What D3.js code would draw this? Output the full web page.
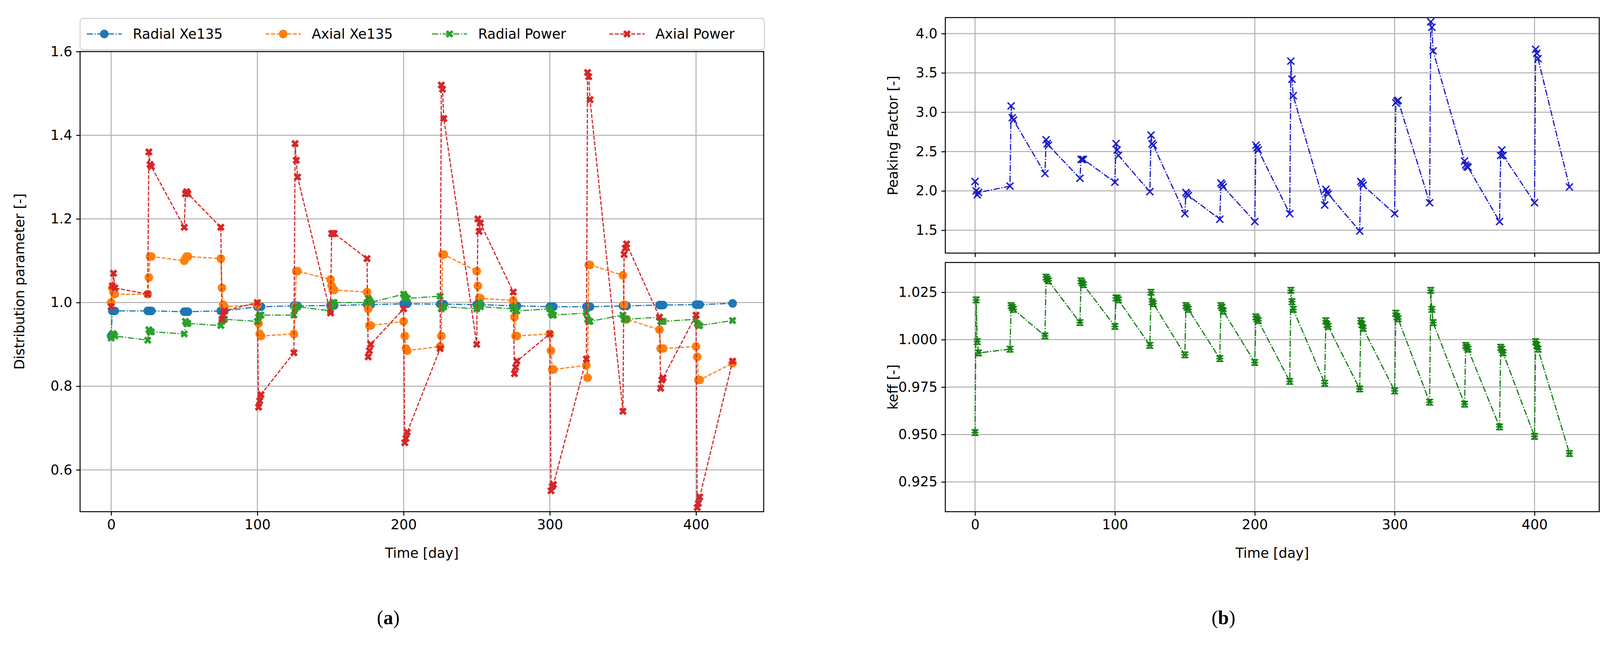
<!DOCTYPE html>
<html>
<head>
<meta charset="utf-8">
<script src="https://cdn.jsdelivr.net/npm/d3@7"></script>
<style>
  body { margin: 0; background: #fff; }
  text { font-family: "DejaVu Sans", sans-serif; }
</style>
</head>
<body>
<svg id="board"></svg>
<script>
const W = 4157, H = 1659;

// time stamps [day], 4 sub-steps per 25-day cycle plus the final point
const time = [
  0, 0.8, 1.6, 2.5,   25, 25.8, 26.6, 27.5,   50, 50.8, 51.6, 52.5,
  75, 75.8, 76.6, 77.5,   100, 100.8, 101.6, 102.5,   125, 125.8, 126.6, 127.5,
  150, 150.8, 151.6, 152.5,   175, 175.8, 176.6, 177.5,   200, 200.8, 201.6, 202.5,
  225, 225.8, 226.6, 227.5,   250, 250.8, 251.6, 252.5,   275, 275.8, 276.6, 277.5,
  300, 300.8, 301.6, 302.5,   325, 325.8, 326.6, 327.5,   350, 350.8, 351.6, 352.5,
  375, 375.8, 376.6, 377.5,   400, 400.8, 401.6, 402.5,   425
];

const radialXe = [
  0.92, 0.98, 0.98, 0.98,   0.98, 0.98, 0.98, 0.98,   0.978, 0.978, 0.978, 0.978,
  0.98, 0.98, 0.98, 0.98,   0.99, 0.99, 0.99, 0.99,   0.992, 0.992, 0.992, 0.992,
  0.993, 0.993, 0.993, 0.993,   0.995, 0.995, 0.995, 0.995,   0.997, 0.997, 0.997, 0.997,
  0.996, 0.996, 0.996, 0.996,   0.995, 0.995, 0.995, 0.995,   0.992, 0.992, 0.992, 0.992,
  0.99, 0.99, 0.99, 0.99,   0.99, 0.99, 0.99, 0.99,   0.992, 0.992, 0.992, 0.992,
  0.994, 0.994, 0.994, 0.994,   0.995, 0.995, 0.995, 0.995,   0.998
];
const axialXe = [
  1.00, 1.035, 1.025, 1.02,   1.02, 1.06, 1.11, 1.11,   1.10, 1.105, 1.11, 1.11,
  1.105, 1.035, 0.995, 0.99,   0.995, 0.95, 0.925, 0.92,   0.925, 0.99, 1.075, 1.075,
  1.055, 1.04, 1.03, 1.03,   1.025, 0.985, 0.945, 0.945,   0.955, 0.92, 0.89, 0.885,
  0.895, 0.92, 1.115, 1.115,   1.075, 1.04, 1.01, 1.01,   1.005, 0.965, 0.92, 0.92,
  0.925, 0.885, 0.84, 0.84,   0.85, 0.82, 1.09, 1.09,   1.065, 0.995, 0.96, 0.96,
  0.935, 0.89, 0.89, 0.89,   0.895, 0.87, 0.815, 0.815,   0.855
];
const radialPower = [
  0.915, 0.925, 0.925, 0.92,   0.91, 0.935, 0.93, 0.93,   0.925, 0.955, 0.95, 0.95,
  0.945, 0.955, 0.96, 0.96,   0.955, 0.965, 0.97, 0.97,   0.97, 0.985, 0.99, 0.99,
  0.98, 0.995, 1.0, 1.0,   1.0, 1.01, 1.005, 1.0,   1.02, 1.015, 1.01, 1.01,
  1.015, 0.985, 0.99, 0.99,   0.985, 0.99, 1.0, 0.99,   0.985, 0.99, 0.98, 0.98,
  0.985, 0.975, 0.97, 0.97,   0.975, 0.96, 0.955, 0.955,   0.97, 0.96, 0.96, 0.96,
  0.965, 0.955, 0.955, 0.955,   0.96, 0.95, 0.945, 0.945,   0.957
];
const axialPower = [
  0.99, 1.04, 1.07, 1.035,   1.02, 1.36, 1.33, 1.325,   1.18, 1.26, 1.265, 1.26,
  1.18, 0.96, 0.97, 0.98,   1.00, 0.75, 0.765, 0.78,   0.88, 1.38, 1.34, 1.30,
  0.975, 1.165, 1.165, 1.165,   1.105, 0.87, 0.885, 0.90,   0.985, 0.665, 0.675, 0.69,
  0.89, 1.52, 1.51, 1.44,   0.90, 1.20, 1.17, 1.19,   1.025, 0.83, 0.845, 0.86,
  0.925, 0.55, 0.56, 0.565,   0.865, 1.55, 1.54, 1.485,   0.74, 1.115, 1.13, 1.14,
  0.965, 0.795, 0.815, 0.82,   0.97, 0.51, 0.52, 0.535,   0.86
];
const peaking = [
  2.12, 2.0, 1.95, 1.98,   2.06, 3.08, 2.93, 2.90,   2.22, 2.65, 2.60, 2.58,
  2.16, 2.40, 2.40, 2.40,   2.11, 2.60, 2.52, 2.45,   1.99, 2.71, 2.60, 2.58,
  1.71, 1.98, 1.96, 1.94,   1.64, 2.10, 2.08, 2.05,   1.61, 2.58, 2.55, 2.52,
  1.71, 3.65, 3.42, 3.21,   1.82, 2.02, 1.98, 1.96,   1.49, 2.12, 2.10, 2.07,
  1.71, 3.12, 3.14, 3.15,   1.85, 4.15, 4.08, 3.78,   2.38, 2.33, 2.31, 2.30,
  1.61, 2.45, 2.52, 2.45,   1.85, 3.80, 3.75, 3.68,   2.05
];
const keff = [
  0.951, 1.021, 0.999, 0.993,   0.995, 1.018, 1.017, 1.016,   1.002, 1.033, 1.032, 1.031,
  1.009, 1.031, 1.030, 1.029,   1.007, 1.022, 1.022, 1.021,   0.997, 1.025, 1.020, 1.019,
  0.992, 1.018, 1.017, 1.016,   0.990, 1.018, 1.017, 1.015,   0.988, 1.012, 1.011, 1.010,
  0.978, 1.026, 1.020, 1.016,   0.977, 1.010, 1.008, 1.007,   0.974, 1.010, 1.008, 1.006,
  0.973, 1.014, 1.012, 1.011,   0.967, 1.026, 1.016, 1.009,   0.966, 0.997, 0.996, 0.995,
  0.954, 0.996, 0.995, 0.993,   0.949, 0.999, 0.997, 0.995,   0.940
];

const xTicks = [0, 100, 200, 300, 400];
const distTicks = [0.6, 0.8, 1.0, 1.2, 1.4, 1.6];
const peakTicks = [1.5, 2.0, 2.5, 3.0, 3.5, 4.0];
const keffTicks = [0.925, 0.950, 0.975, 1.000, 1.025];

const seriesA = [
  { name: "Radial Xe135", values: radialXe, color: "#1f77b4", dash: "16,4,3,4", marker: "circle" },
  { name: "Axial Xe135", values: axialXe, color: "#ff7f0e", dash: "10,4", marker: "circle" },
  { name: "Radial Power", values: radialPower, color: "#2ca02c", dash: "16,4,3,4", marker: "xfill" },
  { name: "Axial Power", values: axialPower, color: "#d62728", dash: "10,4", marker: "xfill" }
];

const svg = d3.select("#board").attr("width", W).attr("height", H);
const FS = 35;

function marker(g, type, color, x, y) {
  if (type === "circle") {
    g.append("circle").attr("cx", x).attr("cy", y).attr("r", 11).attr("fill", color);
  } else if (type === "xfill") {
    g.append("path").attr("transform", `translate(${x},${y}) rotate(45)`)
      .attr("d", d3.symbol(d3.symbolCross, 240)()).attr("fill", color);
  } else if (type === "x") {
    g.append("path").attr("d", `M${x-9},${y-9}L${x+9},${y+9}M${x-9},${y+9}L${x+9},${y-9}`)
      .attr("stroke", color).attr("stroke-width", 3.5);
  } else {
    g.append("path").attr("d", `M${x-9},${y-7}L${x+9},${y-7}M${x-9},${y+7}L${x+9},${y+7}M${x-6},${y-7}L${x+6},${y+7}M${x+6},${y-7}L${x-6},${y+7}M${x-9},${y}L${x+9},${y}`)
      .attr("stroke", color).attr("stroke-width", 3.5);
  }
}

function panel(box, yDomain, yTicks, yFmt, showX) {
  const g = svg.append("g");
  const x = d3.scaleLinear().domain([-21.25, 446.25]).range([box.l, box.r]);
  const y = d3.scaleLinear().domain(yDomain).range([box.b, box.t]);
  const grid = g.append("g").attr("stroke", "#b0b0b0").attr("stroke-width", 2.5);
  xTicks.forEach(t => grid.append("line").attr("x1", x(t)).attr("x2", x(t)).attr("y1", box.t).attr("y2", box.b));
  yTicks.forEach(t => grid.append("line").attr("y1", y(t)).attr("y2", y(t)).attr("x1", box.l).attr("x2", box.r));
  const xa = g.append("g").attr("transform", `translate(0,${box.b})`)
    .call(d3.axisBottom(x).tickValues(xTicks).tickSize(10).tickPadding(10).tickFormat(showX ? d3.format("d") : ""));
  const ya = g.append("g").attr("transform", `translate(${box.l},0)`)
    .call(d3.axisLeft(y).tickValues(yTicks).tickSize(10).tickPadding(10).tickFormat(d3.format(yFmt)));
  [xa, ya].forEach(a => {
    a.select(".domain").remove();
    a.selectAll("line").attr("stroke", "#000").attr("stroke-width", 2.5);
    a.selectAll("text").attr("font-size", FS).attr("fill", "#000").style("font-family", "DejaVu Sans");
  });
  g.append("rect").attr("x", box.l).attr("y", box.t).attr("width", box.r - box.l).attr("height", box.b - box.t)
    .attr("fill", "none").attr("stroke", "#000").attr("stroke-width", 2.5);
  const clip = g.append("g");
  return { g: clip, x, y };
}

function drawSeries(p, s) {
  const pts = time.map((t, i) => [p.x(t), p.y(s.values[i])]);
  p.g.append("path").attr("d", d3.line()(pts)).attr("fill", "none")
    .attr("stroke", s.color).attr("stroke-width", 3).attr("stroke-dasharray", s.dash);
  pts.forEach(q => marker(p.g, s.marker, s.color, q[0], q[1]));
}

// panel (a)
const pa = panel({ l: 205, r: 1955, t: 132, b: 1310 }, [0.5, 1.6], distTicks, ".1f", true);
seriesA.forEach(s => drawSeries(pa, s));
svg.append("text").attr("x", 1080).attr("y", 1428).attr("text-anchor", "middle").attr("font-size", FS).text("Time [day]");
svg.append("text").attr("transform", "translate(62,721) rotate(-90)").attr("text-anchor", "middle").attr("font-size", FS).text("Distribution parameter [-]");

// legend
const lg = svg.append("g");
lg.append("rect").attr("x", 205).attr("y", 47).attr("width", 1752).attr("height", 80).attr("rx", 8)
  .attr("fill", "#fff").attr("stroke", "#d0d0d0").attr("stroke-width", 2.5);
const legX = [222, 680, 1106, 1560];
seriesA.forEach((s, i) => {
  const x0 = legX[i];
  lg.append("line").attr("x1", x0).attr("x2", x0 + 90).attr("y1", 87).attr("y2", 87)
    .attr("stroke", s.color).attr("stroke-width", 3).attr("stroke-dasharray", s.dash);
  marker(lg, s.marker, s.color, x0 + 45, 87);
  lg.append("text").attr("x", x0 + 118).attr("y", 99).attr("font-size", FS).text(s.name);
});

// panel (b)
const pb1 = panel({ l: 2420, r: 4094, t: 45, b: 648 }, [1.209, 4.203], peakTicks, ".1f", false);
drawSeries(pb1, { values: peaking, color: "#1a1acc", dash: "16,4,3,4", marker: "x" });
svg.append("text").attr("transform", "translate(2298,347) rotate(-90)").attr("text-anchor", "middle").attr("font-size", FS).text("Peaking Factor [-]");

const pb2 = panel({ l: 2420, r: 4094, t: 672, b: 1310 }, [0.9093, 1.0407], keffTicks, ".3f", true);
drawSeries(pb2, { values: keff, color: "#138013", dash: "16,4,3,4", marker: "star" });
svg.append("text").attr("transform", "translate(2298,991) rotate(-90)").attr("text-anchor", "middle").attr("font-size", FS).text("keff [-]");
svg.append("text").attr("x", 3257).attr("y", 1428).attr("text-anchor", "middle").attr("font-size", FS).text("Time [day]");

// sub-captions
[["(", "a", ")", 994], ["(", "b", ")", 3132]].forEach(c => {
  const t = svg.append("text").attr("x", c[3]).attr("y", 1598).attr("text-anchor", "middle")
    .attr("font-size", 50).style("font-family", "Liberation Serif");
  t.append("tspan").text(c[0]);
  t.append("tspan").attr("font-weight", "bold").text(c[1]);
  t.append("tspan").text(c[2]);
});
</script>
</body>
</html>
